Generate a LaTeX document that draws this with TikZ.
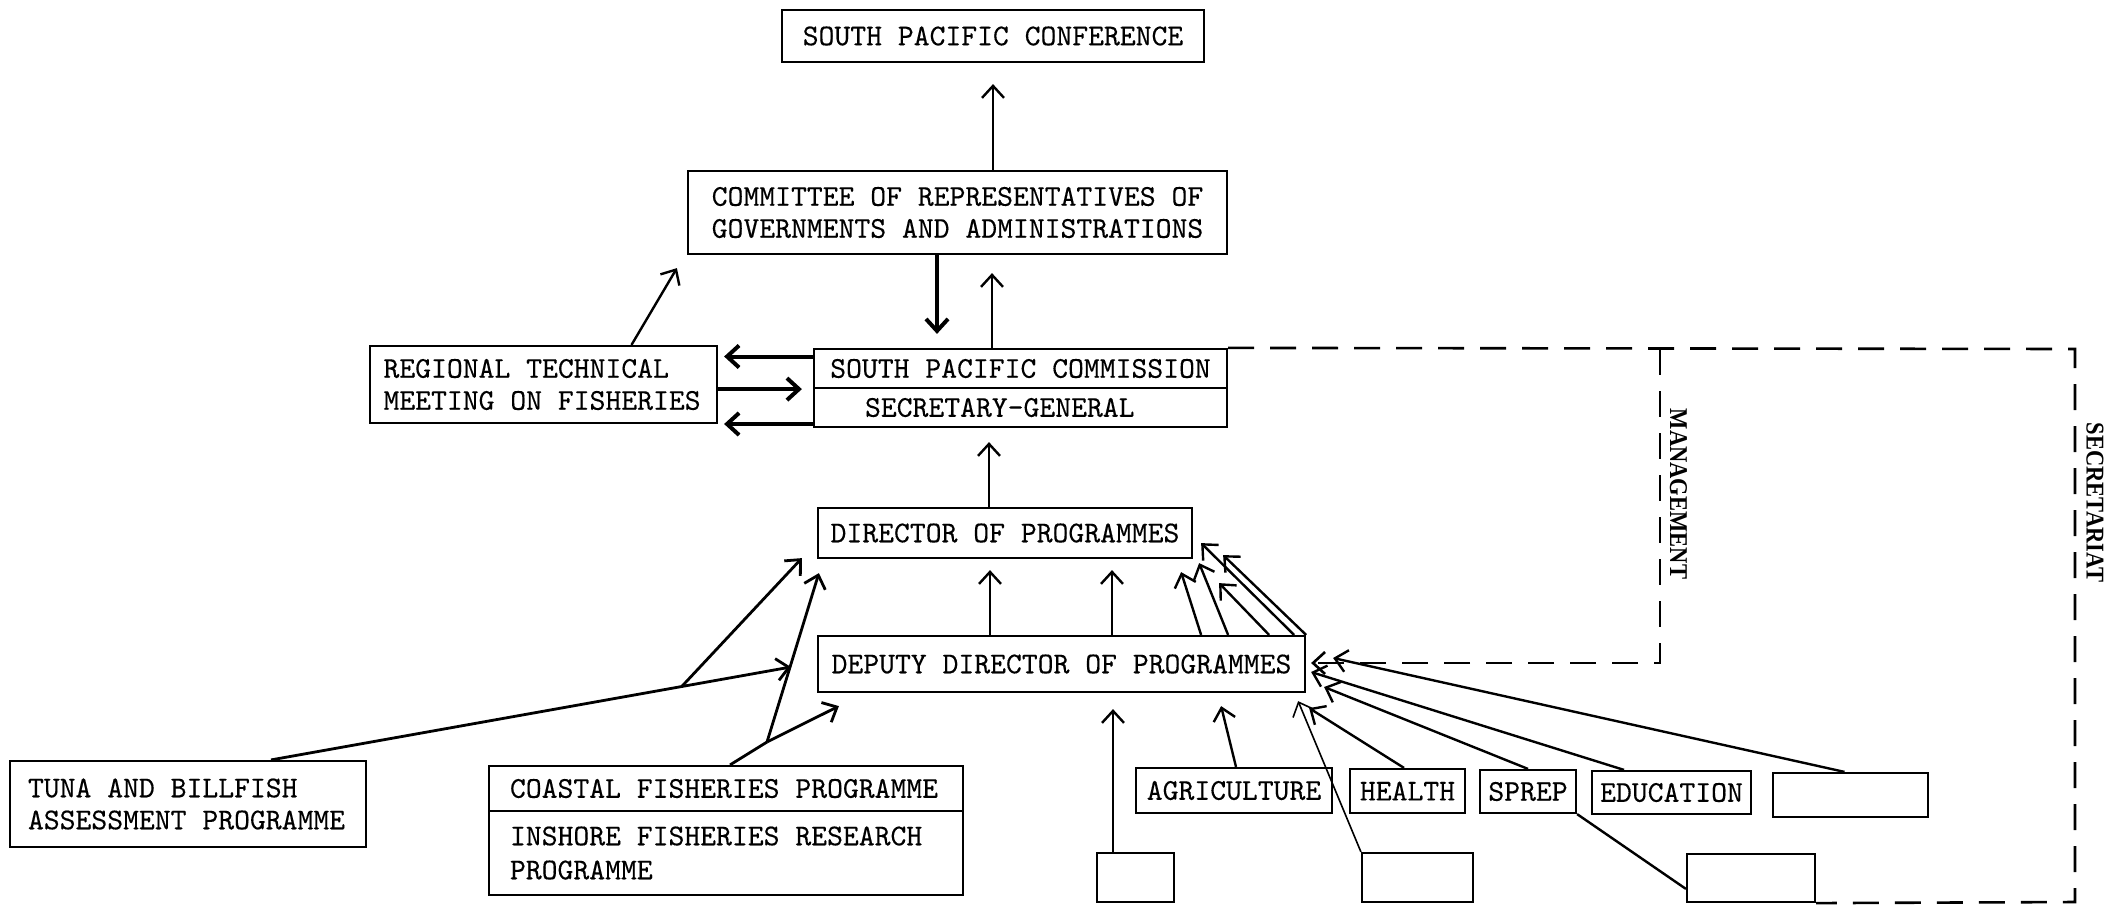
\documentclass[tikz,border=0pt]{standalone}
\usepackage{fontspec}
\setmonofont{lmmono10-regular.otf}[FakeBold=0.3]
\newfontfamily\rotfont{Liberation Serif}[FakeStretch=0.88]
\usetikzlibrary{arrows.meta,calc}

\begin{document}
\begin{tikzpicture}[x=0.5pt,y=-0.5pt,
font=\ttfamily\fontsize{15.1}{16}\selectfont,
box/.style={draw,line width=1.1pt,inner sep=0pt,align=center},
lbox/.style={draw,line width=1.1pt,inner ysep=0pt,align=left,
    execute at begin node={\spaceskip=0pt\xspaceskip=0pt}},
up/.style={->,line width=1.2pt},
heavy/.style={->,line width=2pt},
dline/.style={dash pattern=on 13pt off 8pt,line width=1.3pt},
side/.style={font=\rotfont\bfseries\fontsize{12.8}{14}\selectfont,rotate=-90},
>={Straight Barb[length=6pt,width=11pt]}]
    \useasboundingbox (0,0) rectangle (2128,905);

    % Draw boxes
    \node[box,minimum width=211pt,minimum height=26pt] (conf) at (993,36)
        {SOUTH PACIFIC CONFERENCE};
    \node[box,minimum width=269.5pt,minimum height=41.5pt] (comm) at (957.5,212.5)
        {COMMITTEE OF REPRESENTATIVES OF\\GOVERNMENTS AND ADMINISTRATIONS};
    \node[lbox,text width=160pt,inner xsep=6.75pt,minimum height=38.5pt] (rtm) at (543.5,384.5)
        {REGIONAL TECHNICAL\\MEETING ON FISHERIES};
    \node[box,minimum width=206.5pt,minimum height=19.5pt] (spc) at (1020.5,368.5)
        {SOUTH PACIFIC COMMISSION};
    \node[lbox,text width=155.5pt,inner xsep=25.5pt,minimum height=19.5pt] (sg) at (1020.5,407.5)
        {SECRETARY-GENERAL};
    \node[box,minimum width=187pt,minimum height=25pt] (dir) at (1005,533)
        {DIRECTOR OF PROGRAMMES};
    \node[box,minimum width=243.5pt,minimum height=28pt] (dep) at (1061.5,664)
        {DEPUTY DIRECTOR OF PROGRAMMES};
    \node[lbox,text width=160pt,inner xsep=9pt,minimum height=43pt] (tuna) at (188,804)
        {TUNA AND BILLFISH\\ASSESSMENT PROGRAMME};
    \node[lbox,text width=216pt,inner xsep=10.5pt,minimum height=22.5pt] (coast) at (726,788.5)
        {COASTAL FISHERIES PROGRAMME};
    \node[lbox,text width=216pt,inner xsep=10.5pt,minimum height=42pt,
        font=\ttfamily\fontsize{15.1}{17}\selectfont] (ifrp) at (726,853)
        {INSHORE FISHERIES RESEARCH\\PROGRAMME};
    \node[box,minimum width=98pt,minimum height=22.5pt] (agri) at (1234,790.5) {AGRICULTURE};
    \node[box,minimum width=57.5pt,minimum height=22pt] (health) at (1407.5,791) {HEALTH};
    \node[box,minimum width=48pt,minimum height=21.5pt] (sprep) at (1528,791.5) {SPREP};
    \node[box,minimum width=79.5pt,minimum height=21.5pt] (edu) at (1671.5,792.5) {EDUCATION};
    \node[box,minimum width=77.5pt,minimum height=22pt] (blank) at (1850.5,795) {};
    \node[box,minimum width=38.5pt,minimum height=24.5pt] (boxa) at (1135.5,877.5) {};
    \node[box,minimum width=55.5pt,minimum height=24.5pt] (boxb) at (1417.5,877.5) {};
    \node[box,minimum width=64pt,minimum height=24pt] (boxc) at (1751,878) {};

    % Upper part
    \draw[up,shorten >=10.5pt] (comm.north -| conf.south) -- (conf.south);
    \draw[heavy,shorten >=7pt] ([xshift=-10.25pt]comm.south) -- ([xshift=-10.25pt]comm.south |- spc.north);
    \draw[up,shorten >=9pt] ([xshift=-14.25pt]spc.north) -- ([xshift=-14.25pt]spc.north |- comm.south);
    \draw[up] ([xshift=44pt]rtm.north) -- ([shift={(-5pt,-6.5pt)}]comm.south west);
    \draw[heavy,shorten >=3pt] ([yshift=6pt]spc.west) -- ([yshift=6pt]spc.west -| rtm.east);
    \draw[heavy,shorten >=5.5pt] (rtm.east |- spc.south west) -- (spc.south west);
    \draw[heavy,shorten >=3pt] ([yshift=-8.25pt]sg.west) -- ([yshift=-8.25pt]sg.west -| rtm.east);
    \draw[up,shorten >=7pt] ([xshift=-8pt]dir.north) -- ([xshift=-8pt]dir.north |- sg.south);

    % Deputy to director
    \draw[up,shorten >=5.5pt] ([xshift=-35.75pt]dep.north) -- ([xshift=-35.75pt]dep.north |- dir.south);
    \draw[up,shorten >=5.5pt] ([xshift=25.25pt]dep.north) -- ([xshift=25.25pt]dep.north |- dir.south);
    \foreach \s/\tx/\ty in {-52.5/-6/-6.5, -39/3/-2, -18.5/13/-12, -6/4/8, 0/15/2}
        \draw[up] ([xshift=\s pt]dep.north east) -- ([shift={(\tx pt,\ty pt)}]dir.south east);

    % Fisheries programmes
    \coordinate (ttip) at ([shift={(-13pt,-1.5pt)}]dep.west);
    \coordinate (tfork) at ($([xshift=41.5pt]tuna.north)!0.79!(ttip)$);
    \draw[up,line width=1.4pt] ([xshift=41.5pt]tuna.north) -- (ttip);
    \draw[up,line width=1.4pt] (tfork) -- ([shift={(-7.5pt,0.5pt)}]dir.south west);
    \coordinate (cfork) at (767,742);
    \draw[line width=1.4pt] ([xshift=2pt]coast.north) -- (cfork);
    \draw[up,line width=1.4pt] (cfork) -- ([shift={(11pt,-6.5pt)}]dep.south west);
    \draw[up,line width=1.4pt] (cfork) -- ([shift={(1pt,-7pt)}]dir.south west);

    % Other programmes
    \draw[up] ([xshift=-3pt]blank.north) -- ([shift={(13.5pt,3pt)}]dep.east);
    \draw[up] ([xshift=-23.75pt]edu.north) -- ([shift={(2.5pt,-4pt)}]dep.east);
    \draw[up] (sprep.north) -- ([shift={(9pt,-11.5pt)}]dep.east);
    \draw[up] ([xshift=-1.75pt]health.north) -- ([shift={(1.5pt,-7.5pt)}]dep.south east);
    \draw[up,line width=0.8pt] (boxb.north west) -- ([shift={(-4pt,-4pt)}]dep.south east);
    \draw[up] ([xshift=1pt]agri.north) -- ([shift={(-42.5pt,-6.5pt)}]dep.south east);
    \draw[up,shorten >=8pt] ([xshift=-11.25pt]boxa.north) -- ([xshift=-11.25pt]boxa.north |- dep.south);
    \draw[line width=1.2pt] (sprep.south east) -- ([yshift=-18pt]boxc.north west);

    % Dashed frames
    \coordinate (mtop) at (1660,349);
    \coordinate (mbot) at (1660,663);
    \coordinate (ne) at (2075,349);
    \coordinate (se) at (2075,902);
    \draw[dline] (spc.north east) -- (ne) -- (se) -- (boxc.south east);
    \draw[dline,->,shorten >=2.5pt] (mtop) -- (mbot) -- (mbot -| dep.east);
    \node[side] (mgt) at (1678.5,494) {MANAGEMENT};
    \node[side] (sec) at (2095,502.5) {SECRETARIAT};

\end{tikzpicture}
\end{document}
